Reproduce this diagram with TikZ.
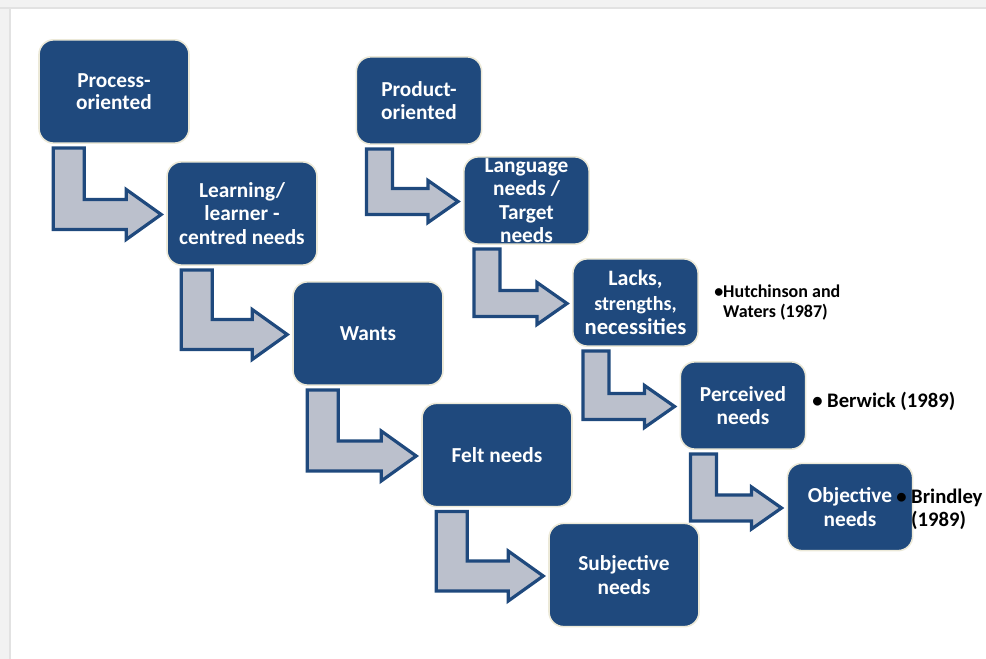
\documentclass[tikz,border=0pt]{standalone}
\usepackage{fontspec}
\setmainfont{Carlito}
\usepackage{tikz}
\usetikzlibrary{calc,positioning}
\definecolor{cBox}{RGB}{31,73,125}
\definecolor{cEdge}{RGB}{236,233,216}
\definecolor{cArrow}{RGB}{187,192,204}
\definecolor{cBand}{RGB}{242,242,242}
\definecolor{cBandLine}{RGB}{226,226,226}
% bent block arrow: from, to, shaft offset, shaft width, band half, head half, head length
\newcommand{\bentarrow}[7]{%
  \coordinate (ba) at ($(#1.south west)+(#3,4)$);
  \coordinate (bt) at ($(#2.west)+(-5,1)$);
  \draw[barrow] (ba) -- ++(#4,0) -- ($(ba |- bt)+(#4,-#5)$) -- ($(bt)+(-#7,-#5)$)
    -- ($(bt)+(-#7,-#6)$) -- (bt) -- ($(bt)+(-#7,#6)$) -- ($(bt)+(-#7,#5)$)
    -- ($(ba |- bt)+(0,#5)$) -- cycle;
}

\begin{document}
\begin{tikzpicture}[
    x=0.75pt, y=-0.75pt,
    box/.style={rectangle,draw=cEdge,line width=1.2pt,fill=cBox,rounded corners=11pt,
      text=white,align=center,inner sep=0pt,font=\fontsize{16}{17.6}\selectfont\bfseries},
    wide/.style={box,minimum width=112.5pt,minimum height=77.5pt},
    narrow/.style={box,minimum width=94pt,minimum height=65.5pt},
    barrow/.style={draw=cBox,fill=cArrow,line width=2.4pt,line join=miter},
    ref/.style={font=\fontsize{15.5}{17}\selectfont\bfseries,align=left,inner sep=0pt}
  ]
  \useasboundingbox (0,0) rectangle (986,659);
  \fill[cBand] (0,0) rectangle (986,8);
  \draw[cBandLine,line width=1.2pt] (0,8) -- (986,8);
  \fill[cBand] (0,9) rectangle (10,659);
  \draw[cBandLine,line width=1.2pt] (10,9) -- (10,659);

  % process-oriented chain
  \node[wide,font=\fontsize{16}{16.5}\selectfont\bfseries] (proc) at (114,91.5) {Process-\\oriented};
  \node[wide] (learn) at (242,213.5) {Learning/\\learner -\\centred needs};
  \node[wide] (wants) at (368,333.5) {Wants};
  \node[wide] (felt)  at (497,455)   {Felt needs};
  \node[wide] (subj)  at (624,575)   {Subjective\\needs};

  % product-oriented chain
  \node[narrow] (prod)  at (419,100.5) {Product-\\oriented};
  \node[narrow] (lang)  at (526.5,200.5) {Language\\needs /\\Target\\needs};
  \node[narrow,font=\fontsize{16}{18.5}\selectfont\bfseries] (lacks) at (635.5,302.5)
    {{\fontsize{16.5}{18.5}\selectfont Lacks,}\\{\fontsize{15}{18.5}\selectfont strengths,}\\{\fontsize{17}{18.5}\selectfont necessities}};
  \node[narrow] (perc)  at (743,405.5) {Perceived\\needs};
  \node[narrow] (obj)   at (850,507)   {Objective\\needs};

  \bentarrow{proc}{learn}{15}{31}{15}{25}{35}
  \bentarrow{learn}{wants}{15}{31}{15}{25}{35}
  \bentarrow{wants}{felt}{15}{31}{15}{25}{35}
  \bentarrow{felt}{subj}{15}{31}{15}{25}{35}
  \bentarrow{prod}{lang}{11}{26}{13}{21}{30}
  \bentarrow{lang}{lacks}{11}{26}{13}{21}{30}
  \bentarrow{lacks}{perc}{11}{26}{13}{21}{30}
  \bentarrow{perc}{obj}{11}{26}{13}{21}{30}

  \node[ref,anchor=north west,font=\fontsize{13.5}{15}\selectfont\bfseries] (hw) at (714,285)
    {\textbullet Hutchinson and\\\phantom{\textbullet}Waters (1987)};
  \node[ref,anchor=west] (bw) at (812,401) {\textbullet\ Berwick (1989)};
  \node[ref,anchor=north west] (br) at (896,489)
    {\textbullet\ Brindley\\\phantom{\textbullet\ }(1989)};
\end{tikzpicture}
\end{document}
